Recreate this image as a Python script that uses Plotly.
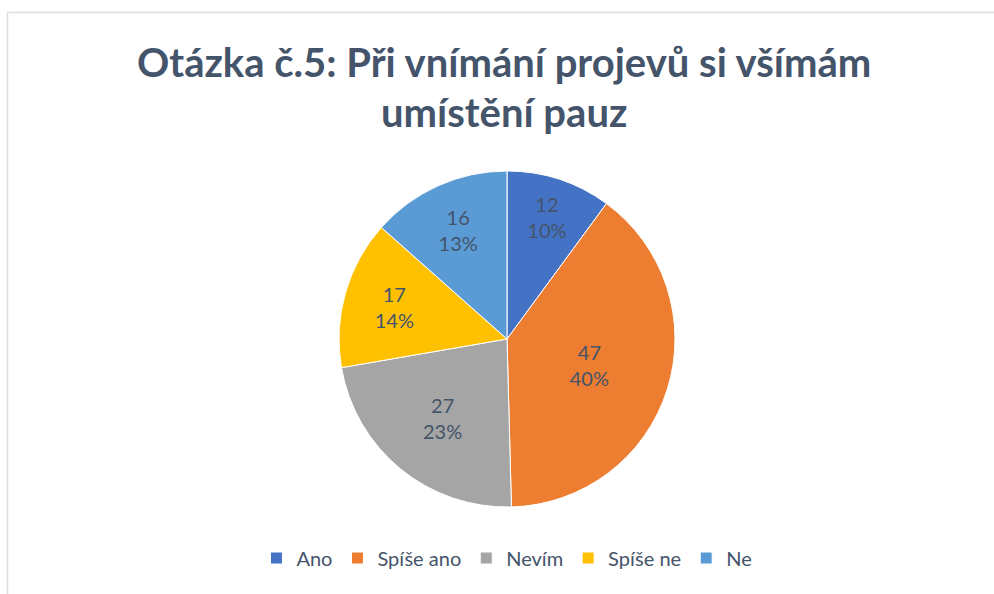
import plotly.graph_objects as go

categories = ["Ano", "Spíše ano", "Nevím", "Spíše ne", "Ne"]
values = [12, 47, 27, 17, 16]
pct_labels = ["10%", "40%", "23%", "14%", "13%"]
colors = ["#4472C4", "#ED7D31", "#A5A5A5", "#FFC000", "#5B9BD5"]
title_lines = ["Otázka č.5: Při vnímání projevů si všímám", "umístění pauz"]

W, H = 994, 594
cx, cy, r = 507, 339, 168
TXT = "#44546A"

fig = go.Figure(go.Pie(
    labels=categories,
    values=values,
    text=pct_labels,
    marker=dict(colors=colors, line=dict(color="#FFFFFF", width=1)),
    sort=False,
    direction="clockwise",
    rotation=0,
    texttemplate="%{value}<br>%{text}",
    textposition="inside",
    insidetextorientation="horizontal",
    textfont=dict(family="Lato", size=20, color=TXT),
    domain=dict(x=[(cx - r) / W, (cx + r) / W], y=[1 - (cy + r) / H, 1 - (cy - r) / H]),
    hoverinfo="label+value+percent",
))

annotations = []
for i, line in enumerate(title_lines):
    annotations.append(dict(
        text=line, xref="paper", yref="paper",
        x=504 / W, xanchor="center",
        y=1 - (62 + 50 * i) / H, yanchor="middle",
        showarrow=False,
        font=dict(family="Lato", size=40, color=TXT, weight="bold"),
    ))

fig.update_layout(
    width=W, height=H,
    margin=dict(l=0, r=0, t=0, b=0),
    paper_bgcolor="white",
    annotations=annotations,
    showlegend=True,
    legend=dict(
        orientation="h",
        x=0.510, xanchor="center",
        y=1 - 558 / H, yanchor="middle",
        font=dict(family="Lato", size=20, color=TXT),
        traceorder="normal",
    ),
    shapes=[dict(
        type="rect", xref="paper", yref="paper",
        x0=7.5 / W, x1=1.02, y0=-0.02, y1=1 - 12.5 / H,
        line=dict(color="#D9DEE5", width=1.5),
        fillcolor="rgba(0,0,0,0)",
    )],
)

fig.write_html(
    "out.html",
    config={"displayModeBar": False},
    post_script="document.body.style.margin='0';document.body.style.padding='0';",
)
